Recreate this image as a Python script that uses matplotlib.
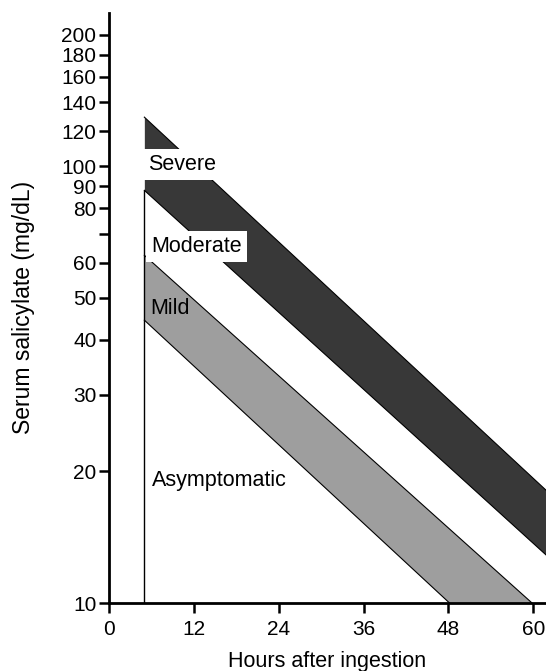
import matplotlib
matplotlib.use("Agg")
import matplotlib.pyplot as plt

plt.rcParams["font.family"] = ["Liberation Sans", "DejaVu Sans"]

# band boundaries, serum salicylate (mg/dL) at the start and end hour
HOURS = [5, 62]
SEVERE_UPPER = [129.4, 18.0]
MODERATE_UPPER = [88.0, 12.8]
MILD_UPPER = [62.5, 9.3]
MILD_LOWER = [44.4, 6.2]

Y_TICKS = [10, 20, 30, 40, 50, 60, 70, 80, 90, 100, 120, 140, 160, 180, 200]
Y_LABELS = ["10", "20", "30", "40", "50", "60", "", "80", "90", "100",
            "120", "140", "160", "180", "200"]
X_TICKS = [0, 12, 24, 36, 48, 60]

LABELS = [
    ("Severe", 5.5, 101, True),
    ("Moderate", 5.95, 65.4, True),
    ("Mild", 5.8, 47.3, False),
    ("Asymptomatic", 6.1, 19.1, False),
]

DARK = "#383838"
LIGHT = "#9e9e9e"


def main():
    fig = plt.figure(figsize=(5.46, 6.71), dpi=100)
    ax = fig.add_axes([0.1996, 0.1013, 0.8004, 0.8797])
    ax.set_yscale("log")

    ax.fill_between(HOURS, MODERATE_UPPER, SEVERE_UPPER, color=DARK, lw=0, zorder=2)
    ax.fill_between(HOURS, MILD_LOWER, MILD_UPPER, color=LIGHT, lw=0, zorder=2)
    for line in (SEVERE_UPPER, MODERATE_UPPER, MILD_UPPER, MILD_LOWER):
        ax.plot(HOURS, line, color="black", lw=0.8, zorder=3)
    ax.vlines(HOURS[0], 10, MODERATE_UPPER[0], color="black", lw=1.0, zorder=3)

    for text, hx, val, boxed in LABELS:
        kw = {}
        if boxed:
            kw["bbox"] = dict(facecolor="white", edgecolor="none", pad=3.5)
        ax.text(hx, val, text, ha="left", va="center", fontsize=15.5, zorder=5, **kw)

    ax.set_xlim(0, 61.8)
    ax.set_ylim(10, 224.3)
    ax.set_yticks(Y_TICKS)
    ax.set_yticklabels(Y_LABELS)
    ax.yaxis.set_minor_locator(matplotlib.ticker.NullLocator())
    ax.set_xticks(X_TICKS)
    ax.set_xticklabels([str(t) for t in X_TICKS])

    for side in ("top", "right"):
        ax.spines[side].set_visible(False)
    for side in ("left", "bottom"):
        ax.spines[side].set_linewidth(2.0)
    ax.tick_params(axis="both", length=7, width=1.8, labelsize=15)
    ax.tick_params(axis="y", pad=2)
    ax.tick_params(axis="x", pad=5)

    ax.set_xlabel("Hours after ingestion", fontsize=15.5, labelpad=9)
    ax.set_ylabel("Serum salicylate (mg/dL)", fontsize=16.5, labelpad=19)

    fig.savefig("out.png", dpi=100)


if __name__ == "__main__":
    main()
